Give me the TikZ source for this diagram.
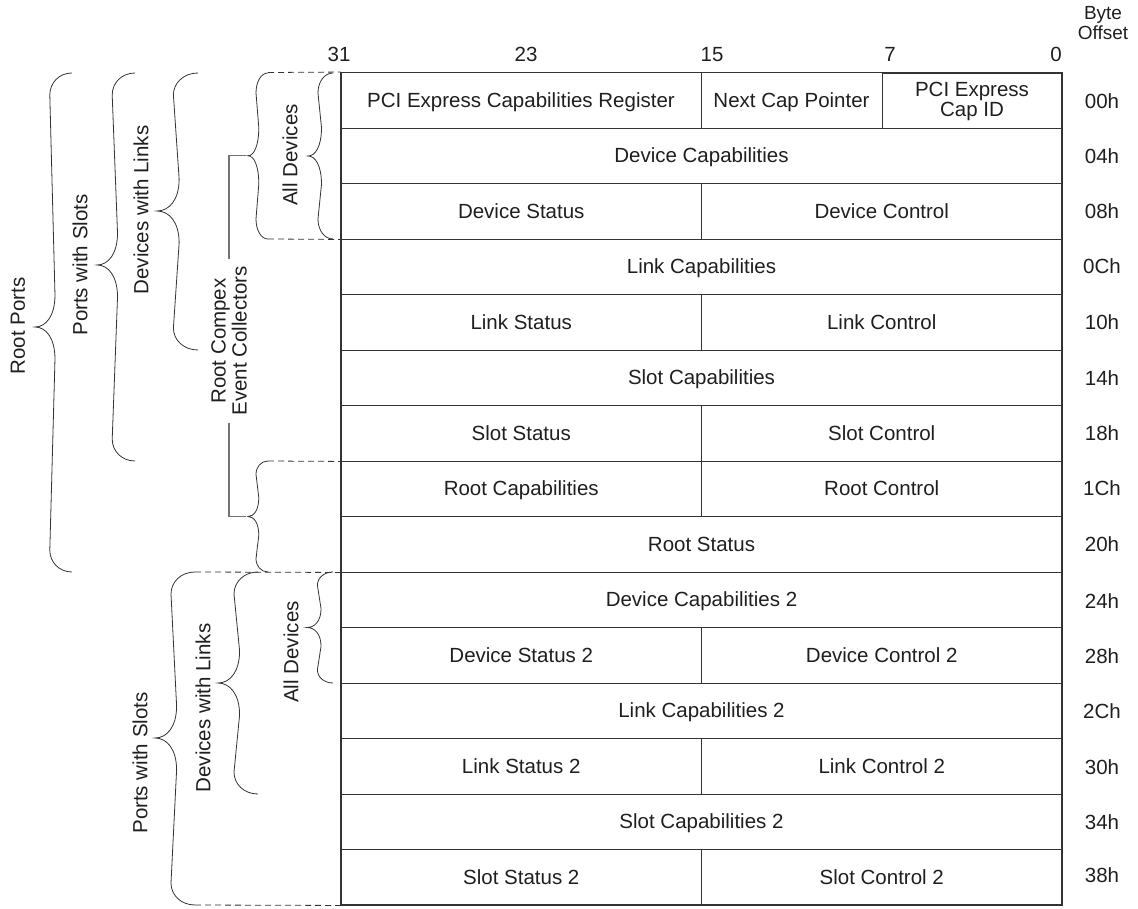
\documentclass[tikz,border=0pt]{standalone}
\usepackage{fontspec}
\setmainfont{Liberation Sans}
\newcommand\curlybrace[5]{%
 \pgfmathsetmacro\bXe{#1}%
 \pgfmathsetmacro\bYt{#2}%
 \pgfmathsetmacro\bYb{#3}%
 \pgfmathsetmacro\bW{#4}%
 \pgfmathsetmacro\bYm{#5}%
 \pgfmathsetmacro\bHa{min(22,(\bYb-\bYt)*0.12)}%
 \pgfmathsetmacro\bHb{min(32,(\bYb-\bYt)*0.17)}%
 \pgfmathsetmacro\bXa{\bXe-0.6*\bW}%
 \pgfmathsetmacro\bXb{\bXe-0.46*\bW}%
 \pgfmathsetmacro\bXt{\bXe-\bW}%
 \pgfmathsetmacro\bXc{\bXa+0.25*\bW}%
 \pgfmathsetmacro\bXd{\bXt+0.3*\bW}%
 \draw[brc] (\bXe,\bYt) .. controls (\bXc,\bYt) and (\bXa,\bYt+0.45*\bHa) .. (\bXa,\bYt+\bHa)
   -- (\bXb,\bYm-\bHb) .. controls (\bXb,\bYm-0.35*\bHb) and (\bXd,\bYm) .. (\bXt,\bYm)
   .. controls (\bXd,\bYm) and (\bXb,\bYm+0.35*\bHb) .. (\bXb,\bYm+\bHb)
   -- (\bXa,\bYb-\bHa) .. controls (\bXa,\bYb-0.45*\bHa) and (\bXc,\bYb) .. (\bXe,\bYb);
}
\begin{document}
\begin{tikzpicture}[x=1pt,y=-1pt,
  txt/.style={font=\fontsize{20.5}{22}\selectfont, text=black!88, inner sep=0pt},
  one/.style={text height=17pt, text depth=3pt},
  cell/.style={txt, draw=black!80, line width=0.9pt, minimum height=55.5pt, anchor=center, align=center},
  full/.style={cell, one, minimum width=721pt},
  half/.style={cell, one, minimum width=360.5pt},
  lab/.style={txt, rotate=90},
  brc/.style={draw=black!80, line width=0.8pt},
  dsh/.style={draw=black!80, line width=0.8pt, dash pattern=on 6pt off 4pt},
  rcl/.style={draw=black!55, line width=1.3pt}]
\useasboundingbox (0,0) rectangle (1138,909);

% header
\node[txt, one] (b31) at (339,55) {31};
\node[txt, one] (b23) at (526,55) {23};
\node[txt, one] (b15) at (712,55) {15};
\node[txt, one] (b7) at (890,55) {7};
\node[txt, one] (b0) at (1056,55) {0};
\node[txt, font=\fontsize{19}{20}\selectfont, align=center] (bo) at (1103,23) {Byte\\Offset};

% rows
\node[cell, one, minimum width=360pt] (r0a) at (521,100.25) {PCI Express Capabilities Register};
\node[cell, one, minimum width=181pt] (r0b) at (791.5,100.25) {Next Cap Pointer};
\node[cell, minimum width=180pt, font=\fontsize{20.5}{20}\selectfont] (r0c) at (972,101) {PCI Express\\Cap ID};
\node[full] (r1) at (701.5,155.75) {Device Capabilities};
\node[half] (r2a) at (521.25,211.25) {Device Status};
\node[half] (r2b) at (881.75,211.25) {Device Control};
\node[full] (r3) at (701.5,266.75) {Link Capabilities};
\node[half] (r4a) at (521.25,322.25) {Link Status};
\node[half] (r4b) at (881.75,322.25) {Link Control};
\node[full] (r5) at (701.5,377.75) {Slot Capabilities};
\node[half] (r6a) at (521.25,433.25) {Slot Status};
\node[half] (r6b) at (881.75,433.25) {Slot Control};
\node[half] (r7a) at (521.25,488.75) {Root Capabilities};
\node[half] (r7b) at (881.75,488.75) {Root Control};
\node[full] (r8) at (701.5,544.25) {Root Status};
\node[full] (r9) at (701.5,599.75) {Device Capabilities 2};
\node[half] (r10a) at (521.25,655.25) {Device Status 2};
\node[half] (r10b) at (881.75,655.25) {Device Control 2};
\node[full] (r11) at (701.5,710.75) {Link Capabilities 2};
\node[half] (r12a) at (521.25,766.25) {Link Status 2};
\node[half] (r12b) at (881.75,766.25) {Link Control 2};
\node[full] (r13) at (701.5,821.75) {Slot Capabilities 2};
\node[half] (r14a) at (521.25,877.25) {Slot Status 2};
\node[half] (r14b) at (881.75,877.25) {Slot Control 2};
\draw[line width=1.6pt, black!80] (341,72.5) rectangle (1062,905);

% offsets
\foreach \lbl/\yy [count=\i] in {00h/102,04h/157,08h/212,0Ch/267,10h/323,14h/378,18h/433,1Ch/488,20h/544,24h/601,28h/656,2Ch/711,30h/767,34h/822,38h/875}
  \node[txt, one] (o\i) at (1102,\yy) {\lbl};

% braces
\curlybrace{72}{73}{572}{37}{327}
\curlybrace{135}{73}{461}{38}{265}
\curlybrace{198}{73}{350}{41}{211}
\curlybrace{268}{73}{239}{20}{155.75}
\curlybrace{333}{73}{239}{25}{156}
\curlybrace{268}{461}{572}{20}{516.5}
\curlybrace{195}{572}{905}{40}{738}
\curlybrace{258}{572}{794}{40}{683}
\curlybrace{333}{572}{683}{26}{627.5}

% dashed extension lines
\draw[dsh] (268,72.5) -- (r0a.north west);
\draw[dsh] (268,239) -- (r2a.south west);
\draw[dsh] (268,461) -- (r6a.south west);
\draw[dsh] (195,572) -- (r8.south west);
\draw[dsh] (195,905) -- (r14a.south west);

% labels
\node[lab] (lrp) at (18,326) {Root Ports};
\node[lab] (lps1) at (80,265) {Ports with Slots};
\node[lab] (ldl1) at (141,210) {Devices with Links};
\node[lab] (lad1) at (290,155) {All Devices};
\node[lab, align=center, inner xsep=7pt, font=\fontsize{20.5}{21}\selectfont] (rcec) at (229,341) {Root Compex\\Event Collectors};
\node[lab] (lps2) at (140,763) {Ports with Slots};
\node[lab] (ldl2) at (203,708) {Devices with Links};
\node[lab] (lad2) at (291,652) {All Devices};

% RCEC connector lines
\coordinate (rcTop) at (246,155.75);
\coordinate (rcBot) at (246,516.5);
\draw[rcl] (rcTop) -- (229,155.75) -- (rcec.east);
\draw[rcl] (rcBot) -- (229,516.5) -- (rcec.west);
\end{tikzpicture}
\end{document}
